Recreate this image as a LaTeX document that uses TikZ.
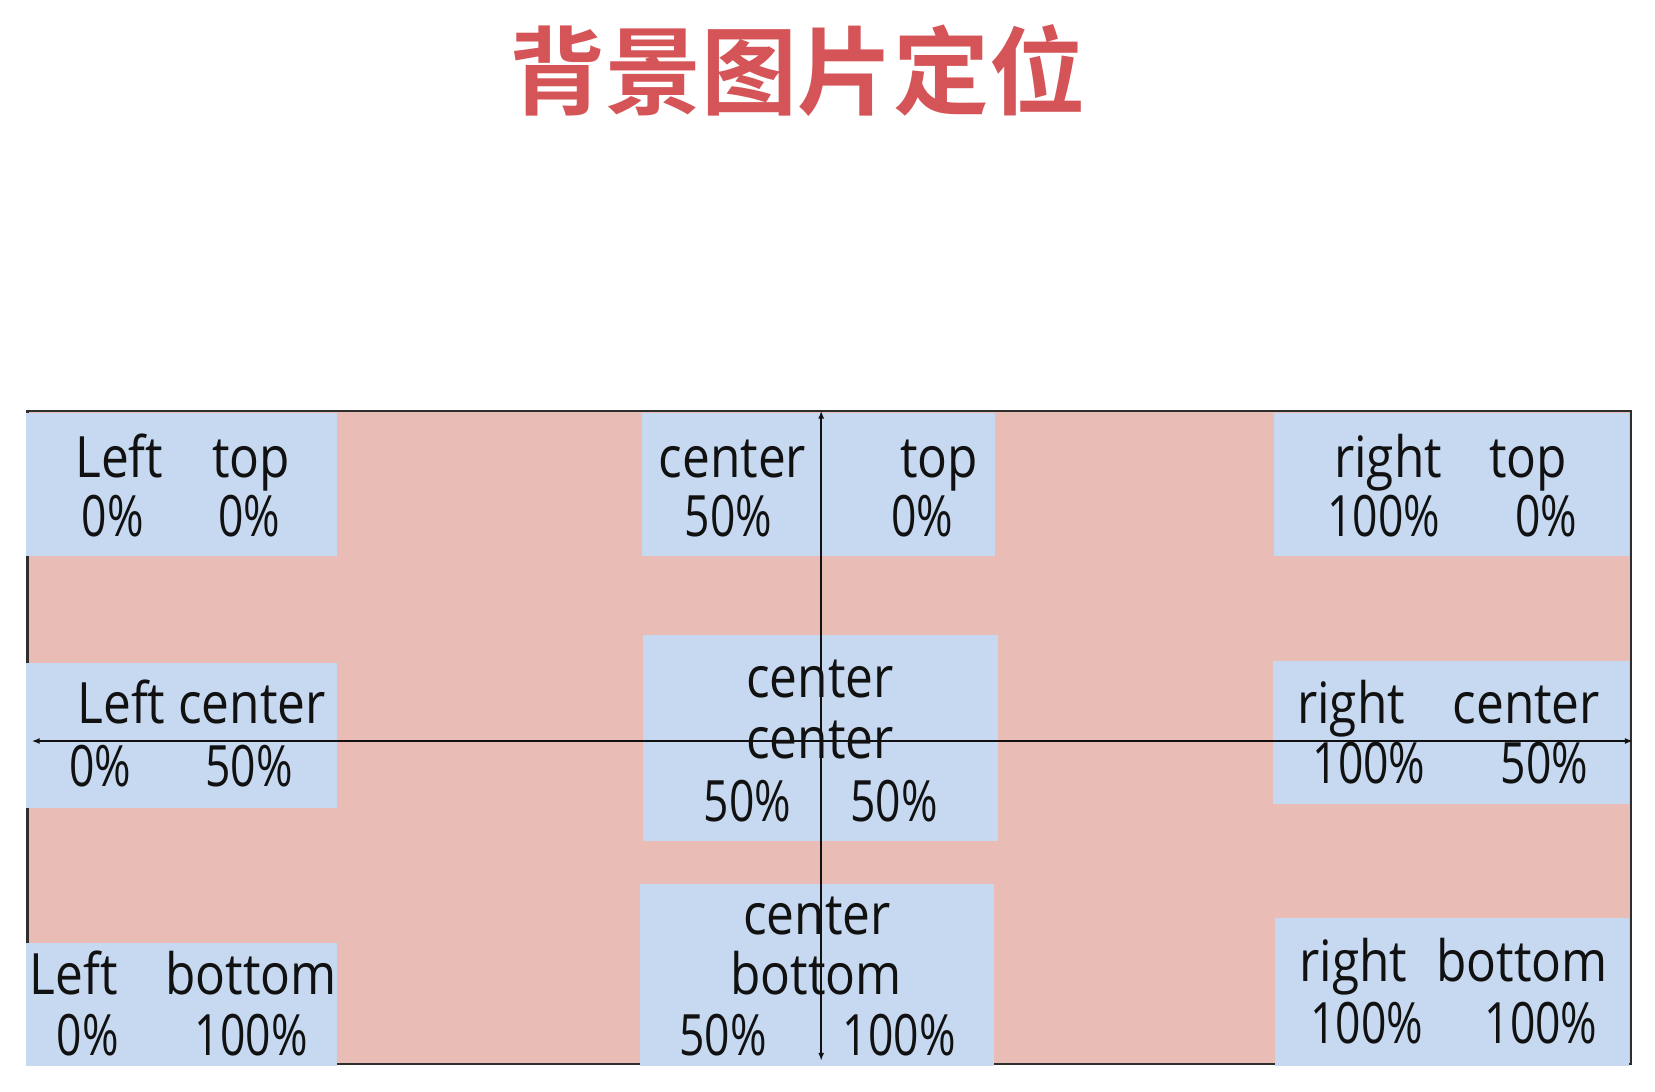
\documentclass[tikz,border=0pt]{standalone}
\usepackage{fontspec}
\setmainfont{Open Sans}[FakeStretch=0.87]
\newfontfamily\numfont{Open Sans}[FakeStretch=0.78]
\newfontfamily\cjk{Noto Sans CJK SC Bold}
\usetikzlibrary{positioning,fit,arrows.meta}
\definecolor{area}{HTML}{E9BCB6}
\definecolor{cell}{HTML}{C6D9F0}
\definecolor{rim}{HTML}{2E2E2E}
\definecolor{ink}{HTML}{111111}
\definecolor{heading}{HTML}{D55457}

\tikzset{
  box/.style={fill=cell,inner sep=0pt},
  word/.style={anchor=base,inner sep=0pt,text=ink,font=\fontsize{57}{68}\selectfont},
  pct/.style={word,font=\numfont\fontsize{57}{68}\selectfont},
  axis/.style={line width=2pt,draw=ink,{Latex[length=8pt,width=6pt]}-{Latex[length=8pt,width=6pt]}},
}

\begin{document}
\begin{tikzpicture}[x=1pt,y=-1pt]
\useasboundingbox[fill=white] (0,0) rectangle (1655,1092);
\node[text=heading,font=\cjk\fontsize{96}{110}\selectfont,inner sep=0pt] (title) at (797,71) {背景图片定位};

% positioning area
\node[fill=area,draw=rim,line width=2.2pt,inner sep=0pt,fit={(27.4,410.6) (1630.8,1064)}] (area) {};

% the nine cells
\node[box,fit={(26,412.7) (336.7,556.3)}] (lt) {};
\node[box,fit={(641.7,412.7) (995.3,556.3)}] (ct) {};
\node[box,fit={(1274,412.7) (1628.6,556.3)}] (rt) {};
\node[box,fit={(26,662.9) (336.7,807.5)}] (lc) {};
\node[box,fit={(642.8,635.4) (997.5,841.2)}] (cc) {};
\node[box,fit={(1272.9,660.7) (1628.6,804.3)}] (rc) {};
\node[box,fit={(26,942.6) (336.7,1065.5)}] (lb) {};
\node[box,fit={(639.6,883.5) (994.3,1065.5)}] (cb) {};
\node[box,fit={(1275,918.3) (1628.6,1065.5)}] (rb) {};

% left top
\node[word] (lt-x) at (119.3,477) {Left};
\node[word] (lt-y) at (251.2,477) {top};
\node[pct] (lt-px) at (112.9,536) {0\%};
\node[pct] (lt-py) at (249.1,536) {0\%};
% center top
\node[word] (ct-x) at (732.5,477) {center};
\node[word] (ct-y) at (939.4,477) {top};
\node[pct] (ct-px) at (728.3,536) {50\%};
\node[pct] (ct-py) at (922.5,536) {0\%};
% right top
\node[word] (rt-x) at (1388,477) {right};
\node[word] (rt-y) at (1528.4,477) {top};
\node[pct] (rt-px) at (1383.8,536) {100\%};
\node[pct] (rt-py) at (1546.4,536) {0\%};
% left center
\node[word] (lc-xy) at (201.6,723) {Left center};
\node[pct] (lc-px) at (100.3,786) {0\%};
\node[pct] (lc-py) at (249.1,786) {50\%};
% center center
\node[word] (cc-x) at (820.1,697) {center};
\node[word] (cc-y) at (820.1,758) {center};
\node[pct] (cc-px) at (747.3,821) {50\%};
\node[pct] (cc-py) at (894,821) {50\%};
% right center
\node[word] (rc-x) at (1351,723) {right};
\node[word] (rc-y) at (1526.3,723) {center};
\node[pct] (rc-px) at (1369,783) {100\%};
\node[pct] (rc-py) at (1544.3,783) {50\%};
% left bottom
\node[word] (lb-x) at (73.9,994) {Left};
\node[word] (lb-y) at (251.2,994) {bottom};
\node[pct] (lb-px) at (87.6,1055) {0\%};
\node[pct] (lb-py) at (251.2,1055) {100\%};
% center bottom
\node[word] (cb-x) at (817,934) {center};
\node[word] (cb-y) at (815.9,994) {bottom};
\node[pct] (cb-px) at (723,1055) {50\%};
\node[pct] (cb-py) at (899.3,1055) {100\%};
% right bottom
\node[word] (rb-x) at (1353.2,981.6) {right};
\node[word] (rb-y) at (1522,981.6) {bottom};
\node[pct] (rb-px) at (1366.9,1043) {100\%};
\node[pct] (rb-py) at (1541,1043) {100\%};

% axes
\coordinate (west) at (31.7,741);
\coordinate (east) at (1632.9,741);
\coordinate (north) at (821.2,410.6);
\coordinate (south) at (821.2,1060.8);
\draw[axis] (west) -- (east);
\draw[axis] (north) -- (south);
\end{tikzpicture}
\end{document}
